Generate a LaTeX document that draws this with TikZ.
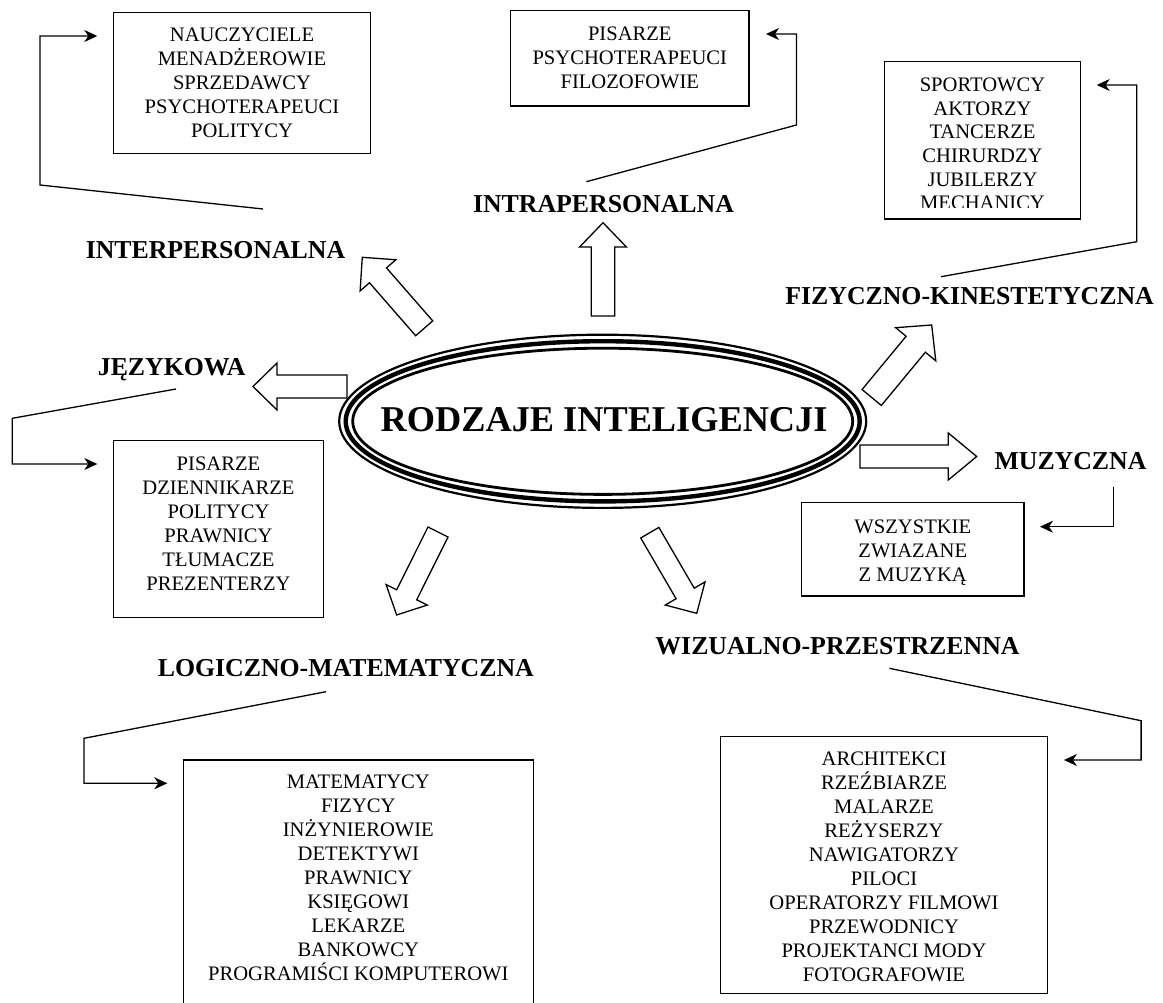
\documentclass[tikz,border=0pt]{standalone}
\usepackage{fontspec}
\setmainfont{Liberation Serif}
\usetikzlibrary{arrows.meta}
\newcommand{\blockarr}[7]{%
  \begin{scope}[shift={(#2)}, rotate=#3]
    \draw[blockarrow] (0,{-#5/2}) -- ({#4-#7},{-#5/2}) -- ({#4-#7},{-#6/2}) -- (#4,0)
      -- ({#4-#7},{#6/2}) -- ({#4-#7},{#5/2}) -- (0,{#5/2}) -- cycle;
    \coordinate (#1) at (0,0);
  \end{scope}}
\newcommand{\itemlist}[5]{%
  \foreach \t [count=\i from 0] in {#5} \node[item] (#1-\i) at (#2,{#3+#4*\i}) {\t};}
\begin{document}
\begin{tikzpicture}[x=1pt,y=-1pt,
  box/.style={draw, line width=1.5pt, inner sep=0pt},
  lbl/.style={font=\fontsize{25.8}{30}\selectfont\bfseries, anchor=base, inner sep=0pt},
  item/.style={font=\fontsize{20.6}{24}\selectfont, anchor=base, inner sep=0pt},
  conn/.style={line width=1.3pt, line join=miter, -{Stealth[length=13pt,width=12pt,inset=4pt]}},
  blockarrow/.style={draw, line width=1.3pt, fill=white, line join=miter}]
\useasboundingbox (0,0) rectangle (1163,1003);
\clip (0,0) rectangle (1163,1003);

% central ellipse
\coordinate (ec) at (602.7,421.3);
\draw[line width=2.2pt] (ec) ellipse [x radius=263.5, y radius=86.6];
\draw[line width=4.4pt] (ec) ellipse [x radius=257, y radius=80.1];
\draw[line width=2.8pt] (ec) ellipse [x radius=250, y radius=73.1];
\node[font=\fontsize{36.3}{40}\selectfont\bfseries, anchor=base, inner sep=0pt] (title) at (604.1,431.7) {RODZAJE INTELIGENCJI};

% block arrows
\blockarr{a1}{424.2,328.3}{131.1}{94.2}{22.6}{47.4}{23.9}
\blockarr{a2}{603,316}{90}{93.3}{23.6}{46.8}{24.3}
\blockarr{a3}{871.7,397.5}{50.4}{94.1}{25}{52}{25}
\blockarr{a4}{860,456.5}{0}{116.7}{23}{47}{28.4}
\blockarr{a5}{347,386.5}{180}{94}{23}{47}{24}
\blockarr{a6}{438,532}{-116.5}{92.7}{22.4}{46}{22.5}
\blockarr{a7}{649.8,532.7}{-59.8}{93.3}{21}{46}{23}

% labels
\node[lbl] (inter) at (215.5,259) {INTERPERSONALNA};
\node[lbl] (intra) at (603.5,212.7) {INTRAPERSONALNA};
\node[lbl] (fiz) at (969.6,305) {FIZYCZNO-KINESTETYCZNA};
\node[lbl] (jez) at (171.7,375) {JĘZYKOWA};
\node[lbl] (muz) at (1070.5,469) {MUZYCZNA};
\node[lbl] (log) at (345.8,676.7) {LOGICZNO-MATEMATYCZNA};
\node[lbl] (wiz) at (837.5,654) {WIZUALNO-PRZESTRZENNA};

% boxes
\node[box, minimum width=257.4pt, minimum height=140.6pt] (b1) at (242,83) {};
\node[box, minimum width=238.7pt, minimum height=95.3pt] (b2) at (629.85,58.35) {};
\node[box, minimum width=196.4pt, minimum height=157.3pt] (b3) at (982.5,140.35) {};
\node[box, minimum width=210pt, minimum height=177pt] (b4) at (218.3,529.2) {};
\node[box, minimum width=222.3pt, minimum height=93.3pt] (b5) at (912.85,549.35) {};
\node[box, minimum width=350pt, minimum height=260pt] (b6) at (358.3,890) {};
\node[box, minimum width=327.2pt, minimum height=256.6pt] (b7) at (884,865) {};

% box texts
\itemlist{t1}{242}{41.8}{24}{NAUCZYCIELE,MENADŻEROWIE,SPRZEDAWCY,PSYCHOTERAPEUCI,POLITYCY}
\itemlist{t2}{629.8}{40.1}{24.2}{PISARZE,PSYCHOTERAPEUCI,FILOZOFOWIE}
\begin{scope}
  \clip (884,61.7) rectangle (1081,207.8);
  \itemlist{t3}{982.5}{91.8}{23.6}{SPORTOWCY,AKTORZY,TANCERZE,CHIRURDZY,JUBILERZY,MECHANICY}
\end{scope}
\itemlist{t4}{218.5}{470.1}{24}{PISARZE,DZIENNIKARZE,POLITYCY,PRAWNICY,TŁUMACZE,PREZENTERZY}
\itemlist{t5}{912.8}{533.5}{24.1}{WSZYSTKIE,ZWIAZANE,Z MUZYKĄ}
\itemlist{t6}{358.3}{788.5}{24}{MATEMATYCY,FIZYCY,INŻYNIEROWIE,DETEKTYWI,PRAWNICY,KSIĘGOWI,LEKARZE,BANKOWCY,PROGRAMIŚCI KOMPUTEROWI}
\itemlist{t7}{884}{765.1}{24}{ARCHITEKCI,RZEŹBIARZE,MALARZE,REŻYSERZY,NAWIGATORZY,PILOCI,OPERATORZY FILMOWI,PRZEWODNICY,PROJEKTANCI MODY,FOTOGRAFOWIE}

% connector coordinates
\coordinate (c1s) at (263,209);   \coordinate (c1a) at (40,185);    \coordinate (c1b) at (40,36);     \coordinate (c1e) at (97.3,36);
\coordinate (c2s) at (586.4,181.7); \coordinate (c2a) at (796.5,125); \coordinate (c2b) at (796.5,34); \coordinate (c2e) at (766,34);
\coordinate (c3s) at (941.1,276.7); \coordinate (c3a) at (1136.7,241.7); \coordinate (c3b) at (1136.7,85); \coordinate (c3e) at (1096.7,85);
\coordinate (c4s) at (176,389);   \coordinate (c4a) at (12.3,418.3); \coordinate (c4b) at (12.3,464);  \coordinate (c4e) at (97.3,464);
\coordinate (c5s) at (1113.3,486.7); \coordinate (c5a) at (1113.3,526.7); \coordinate (c5e) at (1040,526.7);
\coordinate (c6s) at (326,691.7); \coordinate (c6a) at (84,738.3);  \coordinate (c6b) at (84,783.3);  \coordinate (c6e) at (167.3,783.3);
\coordinate (c7s) at (889.4,668.3); \coordinate (c7a) at (1141.1,720.7); \coordinate (c7b) at (1141.1,760); \coordinate (c7e) at (1063.9,760);

\draw[conn] (c1s) -- (c1a) -- (c1b) -- (c1e);
\draw[conn] (c2s) -- (c2a) -- (c2b) -- (c2e);
\draw[conn] (c3s) -- (c3a) -- (c3b) -- (c3e);
\draw[conn] (c4s) -- (c4a) -- (c4b) -- (c4e);
\draw[conn] (c5s) -- (c5a) -- (c5e);
\draw[conn] (c6s) -- (c6a) -- (c6b) -- (c6e);
\draw[conn] (c7s) -- (c7a) -- (c7b) -- (c7e);
\end{tikzpicture}
\end{document}
